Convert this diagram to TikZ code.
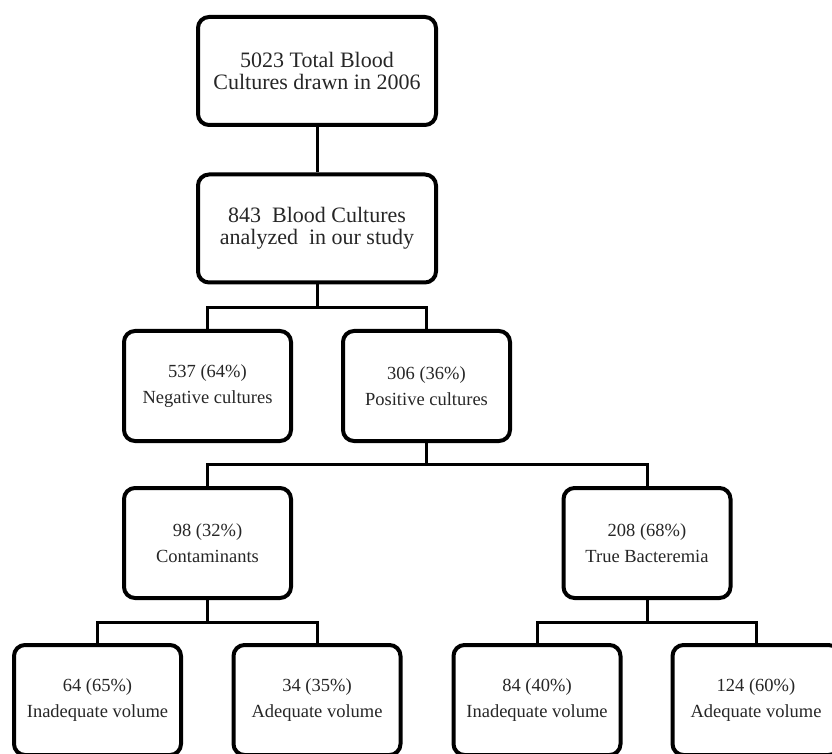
\documentclass[tikz,border=0pt]{standalone}
\usepackage{fontspec}
\setmainfont{Liberation Serif}
\begin{document}
\begin{tikzpicture}[x=1pt,y=1pt,
    topbox/.style={draw,line width=4pt,rounded corners=11pt,align=center,inner sep=0pt,
      text=black!85,minimum width=238pt,minimum height=108pt,font=\fontsize{22}{22}\selectfont},
    flowbox/.style={draw,line width=4pt,rounded corners=11pt,align=center,inner sep=0pt,
      text=black!85,minimum width=167pt,minimum height=110pt,font=\fontsize{18.5}{26}\selectfont}]
      \useasboundingbox (0,0) rectangle (832,753);
      \clip (0,0) rectangle (832,753);
      \node[topbox] (total) at (317,682) {5023 Total Blood\\Cultures drawn in 2006};
      \node[topbox] (study) at (317,524.5) {843\ \ Blood Cultures\\analyzed\ \ in our study};
      \node[flowbox] (neg) at (207.5,367) {537 (64\%)\\Negative cultures};
      \node[flowbox] (pos) at (426.5,367) {306 (36\%)\\Positive cultures};
      \node[flowbox] (cont) at (207.5,210) {98 (32\%)\\Contaminants};
      \node[flowbox] (bact) at (647,210) {208 (68\%)\\True Bacteremia};
      \node[flowbox] (cinad) at (97.5,53) {64 (65\%)\\Inadequate volume};
      \node[flowbox] (cadeq) at (317,53) {34 (35\%)\\Adequate volume};
      \node[flowbox] (binad) at (537,53) {84 (40\%)\\Inadequate volume};
      \node[flowbox] (badeq) at (756,53) {124 (60\%)\\Adequate volume};
      \begin{scope}[line width=3pt]
        \draw (total) -- (study);
        \draw (study.south) -- (study.south |- 0,445) -| (neg.north);
        \draw (study.south) -- (study.south |- 0,445) -| (pos.north);
        \draw (pos.south) -- (pos.south |- 0,289) -| (cont.north);
        \draw (pos.south) -- (pos.south |- 0,289) -| (bact.north);
        \draw (cont.south) -- (cont.south |- 0,131) -| (cinad.north);
        \draw (cont.south) -- (cont.south |- 0,131) -| (cadeq.north);
        \draw (bact.south) -- (bact.south |- 0,131) -| (binad.north);
        \draw (bact.south) -- (bact.south |- 0,131) -| (badeq.north);
      \end{scope}
    \end{tikzpicture}
\end{document}
